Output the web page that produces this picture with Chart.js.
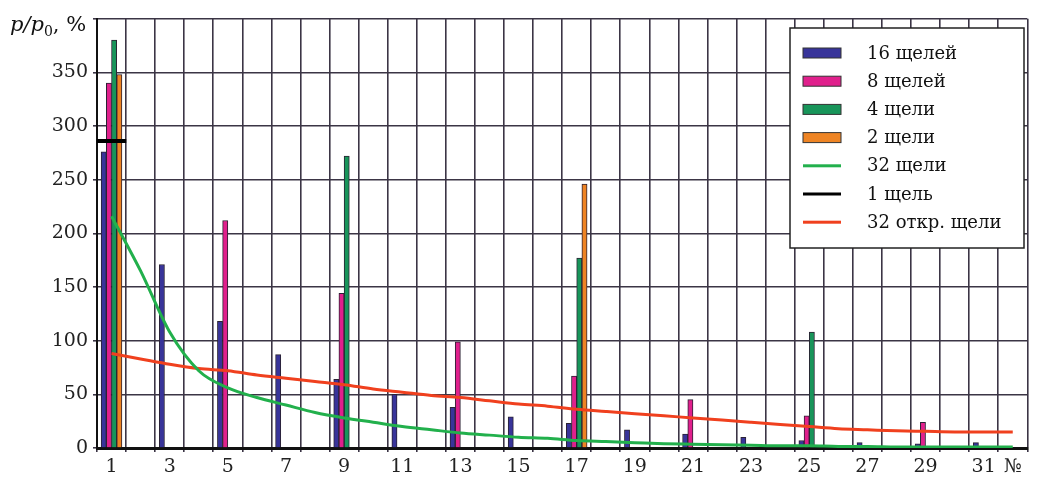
<!DOCTYPE html>
<html>
<head>
<meta charset="utf-8">
<script src="https://cdn.jsdelivr.net/npm/chart.js@4/dist/chart.umd.min.js"></script>
<style>
    html, body { margin: 0; padding: 0; background: #fff; }
    #wrap { width: 1046px; height: 477px; position: relative; }
</style>
</head>
<body>
<div id="wrap"><canvas id="chart"></canvas></div>
<script>
"use strict"

// slot numbers 1..32
const slots = Array.from({ length: 32 }, (_, i) => String(i + 1));

// bar series (null = no bar at that slot)
const slits16 = [276, null, 171, null, 118, null, 87, null, 64, null, 50, null, 38, null, 29, null,
                 23, null, 17, null, 13, null, 10, null, 7, null, 5, null, 4, null, 5, null];
const slits8 = [340, null, null, null, 212, null, null, null, 144, null, null, null, 99, null, null, null,
                67, null, null, null, 45, null, null, null, 30, null, null, null, 24, null, null, null];
const slits4 = [380, null, null, null, null, null, null, null, 272, null, null, null, null, null, null, null,
                177, null, null, null, null, null, null, null, 108, null, null, null, null, null, null, null];
const slits2 = [348, null, null, null, null, null, null, null, null, null, null, null, null, null, null, null,
                246, null, null, null, null, null, null, null, null, null, null, null, null, null, null, null];

// curves
const slits32 = [216, 165, 108, 72, 56, 47, 40, 33, 28, 24, 20, 17, 14, 12, 10, 9,
                 7, 6, 5, 4, 3.5, 3, 2.5, 2, 2, 1.5, 1.5, 1, 1, 1, 1, 1];
const slits32open = [88, 83, 78, 74, 72, 68, 65, 62, 59, 55, 52, 49, 47, 44, 41, 39,
                     36, 34, 32, 30, 28, 26, 24, 22, 20, 18, 17, 16, 15.5, 15, 15, 15];
// single slit level, only at slot 1
const slit1 = [286, null, null, null, null, null, null, null, null, null, null, null, null, null, null, null,
               null, null, null, null, null, null, null, null, null, null, null, null, null, null, null, null];

const serif = "'DejaVu Serif', serif";
const gridColor = "#3b3545";

// legend drawn inside the plot, top right
const boxLegend = {
    id: "boxLegend",
    afterDraw(chart) {
        const ctx = chart.ctx;
        const x0 = 790, y0 = 28, w = 234, h = 220;
        ctx.save();
        ctx.fillStyle = "#fff";
        ctx.fillRect(x0, y0, w, h);
        ctx.strokeStyle = "#222";
        ctx.lineWidth = 1.5;
        ctx.strokeRect(x0, y0, w, h);
        ctx.font = "18px " + serif;
        ctx.textBaseline = "middle";
        chart.data.datasets.forEach((ds, i) => {
            const y = y0 + 25 + i * 28.2;
            if (ds.type === "line") {
                ctx.fillStyle = ds.borderColor;
                ctx.fillRect(803, y - 1.5, 38, 3);
            } else {
                ctx.fillStyle = ds.backgroundColor;
                ctx.fillRect(803, y - 5, 38, 10);
                ctx.strokeStyle = "#333";
                ctx.lineWidth = 1;
                ctx.strokeRect(803, y - 5, 38, 10);
            }
            ctx.fillStyle = "#111";
            ctx.fillText(ds.label, 867, y + 1);
        });
        ctx.restore();
    }
};

// y axis caption p/p0, %
const yCaption = {
    id: "yCaption",
    afterDraw(chart) {
        const ctx = chart.ctx;
        ctx.save();
        ctx.fillStyle = "#111";
        ctx.textBaseline = "alphabetic";
        let x = 10;
        ctx.font = "italic 21px " + serif;
        ctx.fillText("p/p", x, 31);
        x += ctx.measureText("p/p").width;
        ctx.font = "14px " + serif;
        ctx.fillText("0", x, 36);
        x += ctx.measureText("0").width;
        ctx.font = "21px " + serif;
        ctx.fillText(", %", x, 31);
        ctx.restore();
    }
};

// only one x axis: a second index axis doubles the bar group width in v4.5
const barStyle = (color) => ({
    type: "bar",
    backgroundColor: color,
    borderColor: "#2a2233",
    borderWidth: 1,
    barThickness: 5.2,
    order: 2
});

const data = {
    labels: slots,
    datasets: [
        { ...barStyle("#38349a"), label: "16 щелей", data: slits16 },
        { ...barStyle("#e0208c"), label: "8 щелей", data: slits8 },
        { ...barStyle("#18955a"), label: "4 щели", data: slits4 },
        { ...barStyle("#ee8424"), label: "2 щели", data: slits2 },
        {
            type: "line", label: "32 щели", data: slits32,
            borderColor: "#22b04c", borderWidth: 3, pointRadius: 0,
            cubicInterpolationMode: "monotone", order: 1
        },
        {
            // horizontal dash as wide as one slot
            type: "line", label: "1 щель", data: slit1,
            showLine: false, borderColor: "#000",
            pointStyle: "line", pointRadius: 14.7, pointBorderWidth: 4,
            pointBorderColor: "#000", order: 0
        },
        {
            type: "line", label: "32 откр. щели", data: slits32open,
            borderColor: "#f0401e", borderWidth: 3, pointRadius: 0,
            cubicInterpolationMode: "monotone", order: 1
        }
    ]
};

const config = {
    data: data,
    options: {
        responsive: true,
        maintainAspectRatio: false,
        animation: false,
        layout: { padding: { left: 0, top: 13, right: 9, bottom: 0 } },
        plugins: { legend: { display: false }, tooltip: { enabled: false } },
        scales: {
            x: {
                type: "category",
                offset: true,
                grid: { offset: true, color: gridColor, lineWidth: 1.6, tickLength: 4 },
                border: { color: "#111", width: 3 },
                ticks: {
                    autoSkip: false, maxRotation: 0, padding: 4,
                    color: "#222", font: { family: serif, size: 19 },
                    callback: function (val, i) {
                        if (i === 31) return "№";
                        return i % 2 === 0 ? slots[i] : "";
                    }
                },
                afterFit(scale) { scale.height = 29; }
            },
            y: {
                min: 0, max: 400,
                grid: { color: gridColor, lineWidth: 1.6, tickLength: 4 },
                border: { color: "#111", width: 2 },
                ticks: {
                    stepSize: 50, padding: 5,
                    color: "#222", font: { family: serif, size: 19 },
                    callback: (v) => v === 400 ? "" : v
                },
                afterFit(scale) { scale.width = 97; }
            }
        }
    },
    plugins: [boxLegend, yCaption]
};

const chart = new Chart(document.querySelector("#chart"), config);
</script>
</body>
</html>
